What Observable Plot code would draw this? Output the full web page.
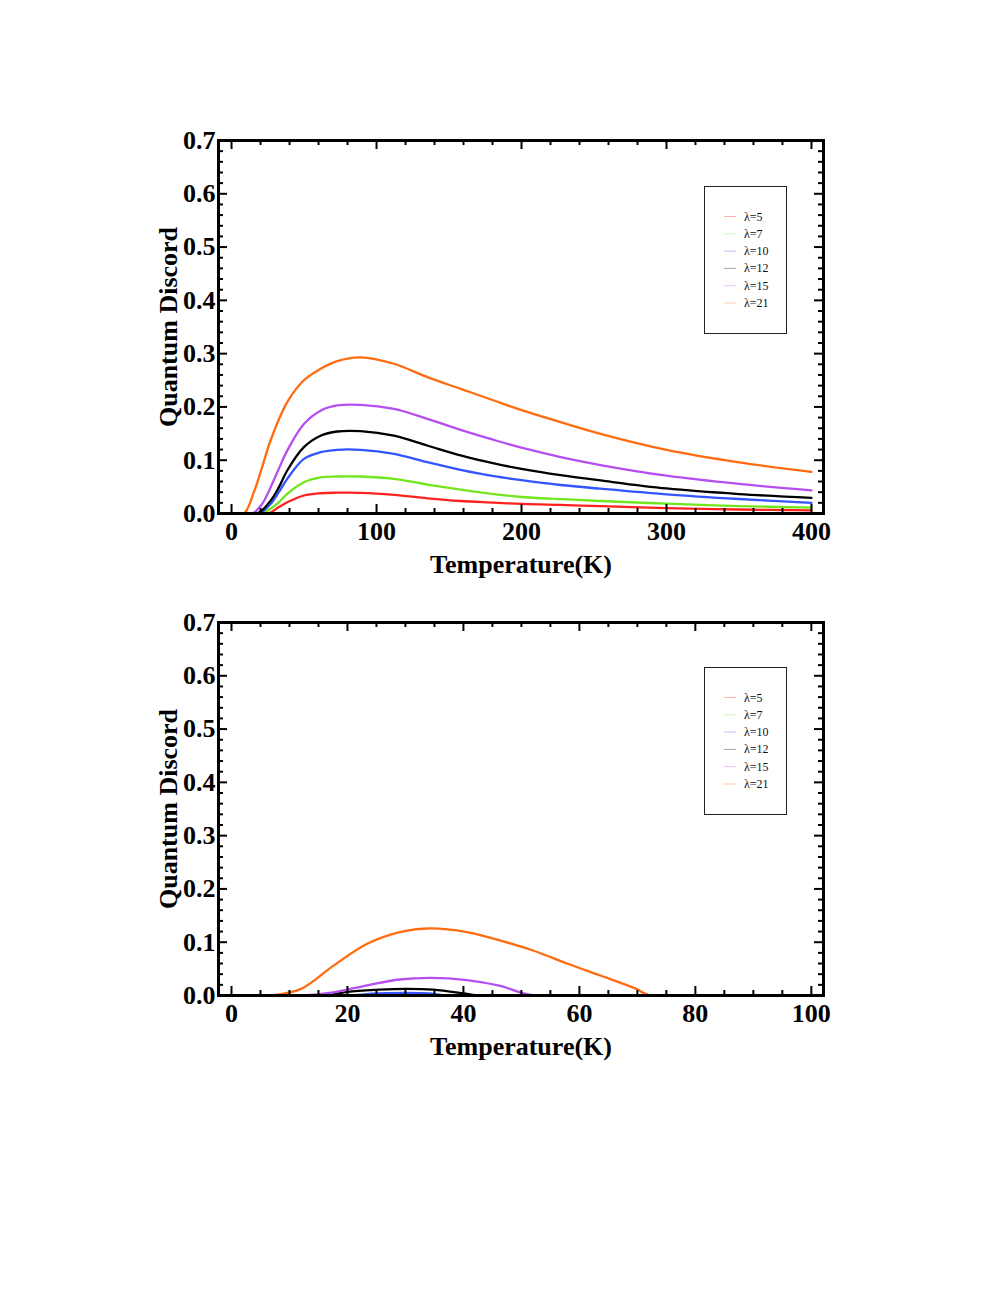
<!DOCTYPE html>
<html><head><meta charset="utf-8">
<script src="https://cdn.jsdelivr.net/npm/d3@7"></script>
<script src="https://cdn.jsdelivr.net/npm/@observablehq/plot@0.6"></script>
<style>
body{margin:0;background:#fff;}
#page{position:relative;width:997px;height:1290px;background:#fff;}
.chart{position:absolute;left:0;background:transparent;}
.legend{position:absolute;}
</style>
</head><body><div id="page"></div>
<script>
// ---- labels & colours ----
const lambdas = ["λ=5","λ=7","λ=10","λ=12","λ=15","λ=21"];
const colors  = ["#ff2020","#72e61c","#3355ff","#000000","#b64ff0","#ff6b0f"];
const yTitle = "Quantum Discord";
const xTitle = "Temperature(K)";

// ---- top chart (T up to 400 K) ----
const topT_l5  = [0, 25.2, 32.6, 38.4, 49.9, 61.4, 72.9, 89, 112, 135, 158, 181, 200, 227, 254.5, 300, 350, 400];
const topV_l5  = [0, 0, 0.012, 0.021, 0.0338, 0.038, 0.039, 0.0388, 0.035, 0.0285, 0.0235, 0.0205, 0.018, 0.016, 0.014, 0.010, 0.0075, 0.006];
const topT_l7  = [0, 21, 26.9, 32.6, 38.4, 49.9, 61.4, 72.9, 89, 112, 135, 158, 181, 200, 227, 254.5, 300, 350, 400];
const topV_l7  = [0, 0, 0.009, 0.021, 0.037, 0.0588, 0.068, 0.0694, 0.0694, 0.065, 0.0544, 0.045, 0.0365, 0.031, 0.027, 0.0235, 0.0185, 0.014, 0.011];
const topT_l10 = [0, 19, 26.9, 32.6, 38.4, 49.9, 61.4, 72.9, 89, 112, 135, 158, 181, 200, 227, 254.5, 300, 350, 400];
const topV_l10 = [0, 0, 0.018, 0.04, 0.065, 0.1026, 0.115, 0.1195, 0.1195, 0.112, 0.0963, 0.082, 0.070, 0.0625, 0.0535, 0.0465, 0.036, 0.0272, 0.020];
const topT_l12 = [0, 17.7, 26.9, 32.6, 38.4, 49.9, 61.4, 72.9, 89, 112, 135, 158, 181, 200, 227, 254.5, 300, 350, 400];
const topV_l12 = [0, 0, 0.024, 0.049, 0.0807, 0.1245, 0.146, 0.1539, 0.1545, 0.146, 0.1276, 0.109, 0.094, 0.0838, 0.072, 0.062, 0.047, 0.0365, 0.0294];
const topT_l15 = [0, 14.3, 21.1, 26.9, 32.6, 38.4, 49.9, 61.4, 72.9, 89, 112, 135, 158, 181, 200, 227, 254.5, 300, 350, 400];
const topV_l15 = [0, 0, 0.018, 0.049, 0.084, 0.118, 0.168, 0.193, 0.2027, 0.204, 0.1964, 0.1776, 0.157, 0.138, 0.1235, 0.106, 0.091, 0.071, 0.0555, 0.0435];
const topT_l21 = [0, 8.5, 15.4, 21.1, 26.9, 38.4, 49.9, 61.4, 72.9, 89, 112, 135, 158, 181, 200, 227, 254.5, 300, 350, 400];
const topV_l21 = [0, 0, 0.040, 0.087, 0.137, 0.209, 0.25, 0.2715, 0.286, 0.293, 0.281, 0.256, 0.234, 0.212, 0.194, 0.1715, 0.1495, 0.1195, 0.096, 0.078];

// ---- bottom chart (T up to 100 K) ----
const botT_l5  = [0, 100];
const botV_l5  = [0, 0];
const botT_l7  = [0, 100];
const botV_l7  = [0, 0];
const botT_l10 = [0, 20, 25, 30, 34, 37, 100];
const botV_l10 = [0, 0, 0.004, 0.005, 0.004, 0, 0];
const botT_l12 = [0, 16.5, 20, 25.5, 30, 34.8, 40, 42.5, 100];
const botV_l12 = [0, 0, 0.007, 0.011, 0.0125, 0.011, 0.004, 0, 0];
const botT_l15 = [0, 12, 17.6, 23.4, 29, 34.3, 40.6, 46.4, 52, 100];
const botV_l15 = [0, 0, 0.006, 0.019, 0.030, 0.033, 0.029, 0.018, 0, 0];
const botT_l21 = [0, 7, 12, 17.6, 23.4, 29, 34.3, 40.6, 46.4, 52, 58, 63.6, 69.4, 72.3, 100];
const botV_l21 = [0, 0, 0.0125, 0.056, 0.097, 0.119, 0.126, 0.119, 0.103, 0.0845, 0.0595, 0.0375, 0.0144, 0, 0];

// ---- ticks ----
const topXMajor = [0, 100, 200, 300, 400];
const topXMinor = d3.range(0, 409, 20).filter(v => v % 100 !== 0);
const botXMajor = [0, 20, 40, 60, 80, 100];
const botXMinor = d3.range(0, 102, 5).filter(v => v % 20 !== 0);
const yMajor = [0, 0.1, 0.2, 0.3, 0.4, 0.5, 0.6, 0.7];
const yMinor = d3.range(0, 0.701, 0.02).filter(v => Math.abs(v * 10 - Math.round(v * 10)) > 1e-6);

function table(Ts, Vs) {
  const rows = [];
  Ts.forEach((T, i) => T.forEach((t, j) => rows.push({lambda: lambdas[i], T: t, v: Vs[i][j]})));
  return rows;
}
const topData = table([topT_l5, topT_l7, topT_l10, topT_l12, topT_l15, topT_l21],
                      [topV_l5, topV_l7, topV_l10, topV_l12, topV_l15, topV_l21]);
const botData = table([botT_l5, botT_l7, botT_l10, botT_l12, botT_l15, botT_l21],
                      [botV_l5, botV_l7, botV_l10, botV_l12, botV_l15, botV_l21]);

const W = 997, mL = 218, mR = 174, fh = 373;
const fw = W - mL - mR;
const font = "Liberation Serif, Times New Roman, serif";

function chart(data, xDomain, xMajor, xMinor, mT, mB) {
  return Plot.plot({
    width: W, height: mT + fh + mB,
    marginLeft: mL, marginRight: mR, marginTop: mT, marginBottom: mB,
    style: {fontFamily: font, background: "transparent"},
    x: {domain: xDomain},
    y: {domain: [0, 0.7]},
    color: {domain: lambdas, range: colors},
    marks: [
      Plot.line(data, {x: "T", y: "v", z: "lambda", stroke: "lambda", strokeWidth: 2.3, curve: "catmull-rom", clip: true}),
      // inward ticks on all four sides
      Plot.tickX(xMajor, {x: d => d, insetTop: fh - 9, strokeWidth: 2}),
      Plot.tickX(xMajor, {x: d => d, insetBottom: fh - 9, strokeWidth: 2}),
      Plot.tickX(xMinor, {x: d => d, insetTop: fh - 5, strokeWidth: 2}),
      Plot.tickX(xMinor, {x: d => d, insetBottom: fh - 5, strokeWidth: 2}),
      Plot.tickY(yMajor, {y: d => d, insetRight: fw - 9, strokeWidth: 2}),
      Plot.tickY(yMajor, {y: d => d, insetLeft: fw - 9, strokeWidth: 2}),
      Plot.tickY(yMinor, {y: d => d, insetRight: fw - 5, strokeWidth: 2}),
      Plot.tickY(yMinor, {y: d => d, insetLeft: fw - 5, strokeWidth: 2}),
      Plot.frame({stroke: "black", strokeWidth: 3}),
      Plot.axisX({ticks: xMajor, tickSize: 0, tickPadding: 8, fontSize: 26, fontWeight: "bold", fontFamily: font, label: null, tickFormat: d => String(d)}),
      Plot.axisY({ticks: yMajor, tickSize: 0, tickPadding: 3, fontSize: 26, fontWeight: "bold", fontFamily: font, label: null, tickFormat: d => d.toFixed(1)}),
      Plot.text([yTitle], {text: d => d, frameAnchor: "left", textAnchor: "middle", lineAnchor: "middle", dx: -50, rotate: -90, fontSize: 26, fontWeight: "bold", fontFamily: font}),
      Plot.text([xTitle], {text: d => d, frameAnchor: "bottom", textAnchor: "middle", lineAnchor: "middle", dy: 51, fontSize: 26, fontWeight: "bold", fontFamily: font})
    ]
  });
}

function legend(left, top) {
  const w = 82, h = 147;
  const svg = d3.create("svg").attr("width", w + 2).attr("height", h + 2).attr("class", "legend")
    .style("left", left + "px").style("top", top + "px");
  svg.append("rect").attr("x", 0.5).attr("y", 0.5).attr("width", w).attr("height", h)
    .attr("fill", "white").attr("stroke", "#222").attr("stroke-width", 1);
  lambdas.forEach((l, i) => {
    const y = 30.5 + i * 17.3;
    svg.append("line").attr("x1", 20).attr("x2", 32).attr("y1", y).attr("y2", y)
      .attr("stroke", colors[i]).attr("stroke-opacity", 0.35).attr("stroke-width", 1);
    svg.append("text").attr("x", 40).attr("y", y + 4).text(l)
      .attr("font-family", font).attr("font-size", 12).attr("fill", "#111");
  });
  return svg.node();
}

const page = document.getElementById("page");
const c1 = chart(topData, [-9, 408.3], topXMajor, topXMinor, 140, 77);
c1.classList.add("chart"); c1.style.top = "0px";
page.appendChild(c1);
page.appendChild(legend(704, 186));

const c2 = chart(botData, [-2.24, 102.1], botXMajor, botXMinor, 32, 77);
c2.classList.add("chart"); c2.style.top = "590px";
page.appendChild(c2);
page.appendChild(legend(704, 667));
</script>
</body></html>
